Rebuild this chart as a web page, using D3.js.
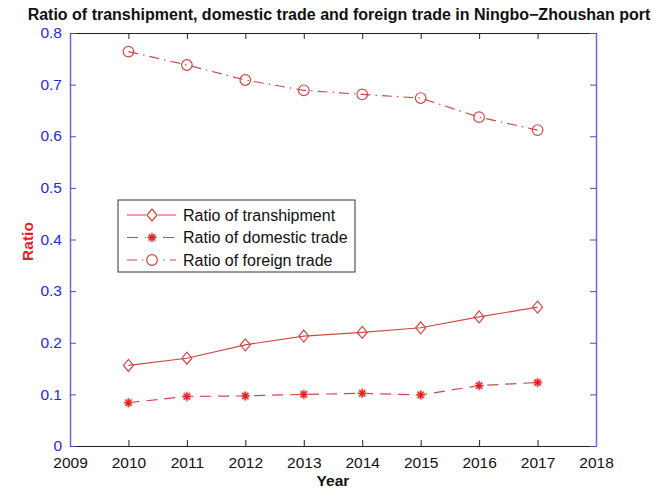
<!DOCTYPE html>
<html>
<head>
<meta charset="utf-8">
<script src="https://cdn.jsdelivr.net/npm/d3@7"></script>
<style>
  body { margin: 0; background: #fff; }
  svg { font-family: "Liberation Sans", Arial, sans-serif; }
</style>
</head>
<body>
<div id="chart"></div>
<script>
const years = [2010, 2011, 2012, 2013, 2014, 2015, 2016, 2017];
const transhipment = [0.156, 0.170, 0.196, 0.213, 0.220, 0.229, 0.250, 0.269];
const domestic = [0.084, 0.096, 0.097, 0.100, 0.102, 0.099, 0.117, 0.123];
const foreign = [0.764, 0.738, 0.709, 0.689, 0.681, 0.674, 0.637, 0.612];
const xTicks = [2009, 2010, 2011, 2012, 2013, 2014, 2015, 2016, 2017, 2018];
const yTicks = [0, 0.1, 0.2, 0.3, 0.4, 0.5, 0.6, 0.7, 0.8];
const seriesNames = ['Ratio of transhipment', 'Ratio of domestic trade', 'Ratio of foreign trade'];

const width = 654, height = 491;
const margin = { top: 33, right: 58, bottom: 45, left: 70 };
const innerW = width - margin.left - margin.right;
const innerH = height - margin.top - margin.bottom;

const lineColor = '#cc4a4a';
const blue = '#2a2ad0';

const svg = d3.select('#chart').append('svg')
    .attr('width', width)
    .attr('height', height);

const g = svg.append('g').attr('transform', `translate(${margin.left},${margin.top})`);

const x = d3.scaleLinear().domain([2009, 2018]).range([0, innerW]);
const y = d3.scaleLinear().domain([0, 0.8]).range([innerH, 0]);

// axes (ticks point inward)
const xb = g.append('g').attr('transform', `translate(0,${innerH})`)
    .call(d3.axisBottom(x).tickValues(xTicks).tickFormat(d3.format('d')).tickSizeInner(-6).tickSizeOuter(0).tickPadding(11));
const xt = g.append('g')
    .call(d3.axisTop(x).tickValues(xTicks).tickFormat('').tickSizeInner(-6).tickSizeOuter(0));
const yl = g.append('g')
    .call(d3.axisLeft(y).tickValues(yTicks).tickFormat(d => d === 0 ? '0' : d3.format('.1f')(d)).tickSizeInner(-6).tickSizeOuter(0).tickPadding(8));
const yr = g.append('g').attr('transform', `translate(${innerW},0)`)
    .call(d3.axisRight(y).tickValues(yTicks).tickFormat('').tickSizeInner(-6).tickSizeOuter(0));

[xb, xt].forEach(a => {
    a.select('.domain').attr('stroke', '#222').attr('stroke-width', 1);
    a.selectAll('.tick line').attr('stroke', '#222');
});
[yl, yr].forEach(a => {
    a.select('.domain').attr('stroke', '#6a6ad6').attr('stroke-width', 1.5);
    a.selectAll('.tick line').attr('stroke', '#4a4ad0');
});
xb.selectAll('.tick text').attr('fill', '#111').style('font-size', '15.5px');
yl.selectAll('.tick text').attr('fill', blue).style('font-size', '15.5px').attr('dy', '0.3em');

// title and labels
svg.append('text')
    .attr('x', width / 2 + 12).attr('y', 20)
    .attr('text-anchor', 'middle')
    .style('font-size', '16px').style('font-weight', 'bold')
    .attr('fill', '#111')
    .text('Ratio of transhipment, domestic trade and foreign trade in Ningbo\u2212Zhoushan port');

svg.append('text')
    .attr('x', margin.left + innerW / 2).attr('y', 486)
    .attr('text-anchor', 'middle')
    .style('font-size', '15.5px').style('font-weight', 'bold')
    .attr('fill', '#111')
    .text('Year');

svg.append('text')
    .attr('transform', `translate(33,${margin.top + innerH / 2 + 2}) rotate(-90)`)
    .attr('text-anchor', 'middle')
    .style('font-size', '15.5px').style('font-weight', 'bold')
    .attr('fill', '#e0202a')
    .text('Ratio');

// lines
const line = d3.line().x((d, i) => x(years[i])).y(d => y(d));

const series = [
    { name: seriesNames[0], values: transhipment, dash: null, marker: 'diamond' },
    { name: seriesNames[1], values: domestic, dash: '11,7', marker: 'star' },
    { name: seriesNames[2], values: foreign, dash: '10,5,1.5,5', marker: 'circle' }
];

function drawMarker(sel, type) {
    if (type === 'diamond') {
        sel.append('path')
            .attr('d', 'M0,-6L5,0L0,6L-5,0Z')
            .attr('fill', 'none').attr('stroke', lineColor).attr('stroke-width', 1.2);
    } else if (type === 'circle') {
        sel.append('circle').attr('r', 5.3)
            .attr('fill', 'none').attr('stroke', lineColor).attr('stroke-width', 1.2);
    } else {
        sel.append('path')
            .attr('d', 'M-5,0L5,0M0,-5L0,5M-3.5,-3.5L3.5,3.5M-3.5,3.5L3.5,-3.5')
            .attr('stroke', '#d8b0b0').attr('stroke-width', 2.4);
        sel.append('path')
            .attr('d', 'M-4,0L4,0M0,-4L0,4M-2.8,-2.8L2.8,2.8M-2.8,2.8L2.8,-2.8')
            .attr('stroke', '#ee1c1c').attr('stroke-width', 1.3);
    }
}

series.forEach(s => {
    g.append('path')
        .datum(s.values)
        .attr('fill', 'none')
        .attr('stroke', lineColor)
        .attr('stroke-width', 1.2)
        .attr('stroke-dasharray', s.dash)
        .attr('d', line);

    g.selectAll(null)
        .data(s.values)
        .enter().append('g')
        .attr('transform', (d, i) => `translate(${x(years[i])},${y(d)})`)
        .each(function () { drawMarker(d3.select(this), s.marker); });
});

// legend
const legend = svg.append('g').attr('transform', 'translate(118,200)');
legend.append('rect')
    .attr('width', 237).attr('height', 72)
    .attr('fill', '#fff').attr('stroke', '#333').attr('stroke-width', 1);

series.forEach((s, i) => {
    const ly = 15 + i * 22.5;
    legend.append('line')
        .attr('x1', 9).attr('x2', 58).attr('y1', ly).attr('y2', ly)
        .attr('stroke', lineColor).attr('stroke-width', 1.2)
        .attr('stroke-dasharray', s.dash);
    const m = legend.append('g').attr('transform', `translate(34,${ly})`);
    m.append('rect').attr('x', -6).attr('y', -6).attr('width', 12).attr('height', 12).attr('fill', '#fff');
    drawMarker(m, s.marker);
    legend.append('text')
        .attr('x', 65).attr('y', ly).attr('dy', '0.35em')
        .style('font-size', '16px').attr('fill', '#111')
        .text(s.name);
});
</script>
</body>
</html>
